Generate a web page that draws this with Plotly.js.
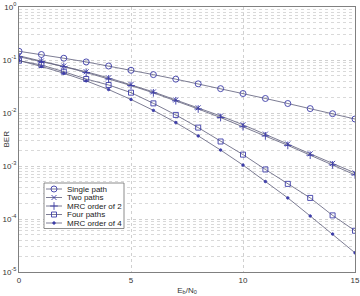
<!DOCTYPE html>
<html>
<head>
<meta charset="utf-8">
<script src="https://cdn.plot.ly/plotly-3.0.1.min.js"></script>
<style>html,body{margin:0;padding:0;background:#fff;}#chart{width:360px;height:296px;}</style>
</head>
<body>
<div id="chart"></div>
<script>
// ---- data ----
const ebno = [0,1,2,3,4,5,6,7,8,9,10,11,12,13,14,15];
const singlePath = [0.146,0.127,0.108,0.092,0.077,0.064,0.053,0.0435,0.0355,0.0288,0.0233,0.0188,0.0151,0.0121,0.0097,0.0077];
const twoPaths   = [0.120,0.096,0.077,0.060,0.046,0.0345,0.025,0.0176,0.0125,0.0088,0.0060,0.0040,0.0026,0.0017,0.00112,0.00074];
const mrc2       = [0.115,0.094,0.075,0.058,0.044,0.033,0.024,0.017,0.0119,0.0082,0.0055,0.0037,0.00245,0.0016,0.00105,0.00068];
const fourPaths  = [0.097,0.0805,0.0602,0.0438,0.0338,0.0242,0.0152,0.0092,0.0053,0.0029,0.00164,0.00086,0.00046,0.00025,0.000117,0.00006];
const mrc4       = [0.0975,0.0756,0.0564,0.0404,0.0277,0.018,0.0112,0.0066,0.0037,0.002,0.00104,0.00051,0.00025,0.000114,0.000052,0.000023];
const seriesNames = ['Single path','Two paths','MRC order of 2','Four paths','MRC order of 4'];
const xTicks = [0,5,10,15];
const yTickVals = [1,0.1,0.01,0.001,0.0001,0.00001];
const yTickText = ['10<sup>0</sup>','10<sup>-1</sup>','10<sup>-2</sup>','10<sup>-3</sup>','10<sup>-4</sup>','10<sup>-5</sup>'];

// ---- styles ----
const lineCol = '#5c5c78';
const markCol = '#3c3ca8';
const symbols = ['circle-open','x-thin-open','cross-thin-open','square-open','circle'];
const msizes  = [6,5,5.5,5,2.5];
const ys = [singlePath,twoPaths,mrc2,fourPaths,mrc4];
const FONT = 'Liberation Sans, Arial, sans-serif';

const traces = ys.map((y,i)=>({
  x: ebno, y: y, type:'scatter', mode:'lines+markers', name: seriesNames[i],
  showlegend:false,
  line:{color:lineCol,width:0.8},
  marker:{symbol:symbols[i],size:msizes[i],color:markCol,line:{color:markCol,width:0.9}},
  xaxis:'x', yaxis:'y'
}));

// minor grid values for log axis
const minorVals = [];
for (let e=-5;e<0;e++){ for (let m=2;m<=9;m++){ minorVals.push(m*Math.pow(10,e)); } }

// ---- custom compact legend (overlay axes 0..1 over plot area) ----
const W = 336, H = 265; // plot area px
const px = v => (v-19)/W;
const py = v => (272-v)/H;
const legRowsY = [189,197.5,206,214.5,223];
const bx0 = px(44), bx1 = px(124), by0 = py(228.5), by1 = py(183);
traces.push({
  x:[bx0,bx1,bx1,bx0,bx0], y:[by0,by0,by1,by1,by0], type:'scatter', mode:'lines',
  fill:'toself', fillcolor:'#ffffff', line:{color:'#707070',width:0.8},
  showlegend:false, hoverinfo:'skip', xaxis:'x2', yaxis:'y2'
});
const annotations = [];
seriesNames.forEach((n,i)=>{
  traces.push({
    x:[px(46),px(62)], y:[py(legRowsY[i]),py(legRowsY[i])], type:'scatter', mode:'lines',
    line:{color:lineCol,width:0.8}, showlegend:false, hoverinfo:'skip', xaxis:'x2', yaxis:'y2'
  });
  traces.push({
    x:[px(54)], y:[py(legRowsY[i])], type:'scatter', mode:'markers',
    marker:{symbol:symbols[i],size:msizes[i],color:markCol,line:{color:markCol,width:0.9}},
    showlegend:false, hoverinfo:'skip', xaxis:'x2', yaxis:'y2'
  });
  annotations.push({
    xref:'paper', yref:'paper', x:px(66), y:py(legRowsY[i]), xanchor:'left', yanchor:'middle',
    text:n, showarrow:false, borderpad:0, font:{family:FONT, size:8, color:'#222'}
  });
});
annotations.push({
  xref:'paper', yref:'paper', x:px(6), y:0.5, xanchor:'center', yanchor:'middle',
  text:'BER', textangle:-90, showarrow:false, borderpad:0,
  font:{family:FONT, size:8, color:'#333'}
});

const gridCol = '#c4c4c4';
const layout = {
  width:360, height:296,
  margin:{l:19, r:5, t:7, b:24},
  paper_bgcolor:'#fff', plot_bgcolor:'#fff',
  font:{family:FONT, size:8, color:'#333'},
  showlegend:false,
  xaxis:{
    range:[0,15], tickvals:xTicks, ticktext:xTicks.map(String),
    showgrid:true, gridcolor:gridCol, griddash:'dot', gridwidth:0.8,
    zeroline:false, showline:true, linecolor:'#808080', linewidth:1, mirror:true,
    ticks:'', ticklen:0, tickfont:{size:8, color:'#333'},
    title:{text:'E<sub>b</sub>/N<sub>0</sub>', font:{size:8, color:'#333'}, standoff:3},
    automargin:false
  },
  yaxis:{
    type:'log', range:[-5,0], tickvals:yTickVals, ticktext:yTickText,
    showgrid:true, gridcolor:gridCol, griddash:'dot', gridwidth:0.8,
    minor:{tickmode:'array', tickvals:minorVals, showgrid:true, gridcolor:'#d0d0d0', griddash:'dot', gridwidth:0.8, ticks:''},
    zeroline:false, showline:true, linecolor:'#808080', linewidth:1, mirror:true,
    ticks:'', tickfont:{size:8, color:'#333'}, automargin:false
  },
  xaxis2:{overlaying:'x', range:[0,1], visible:false, fixedrange:true},
  yaxis2:{overlaying:'y', range:[0,1], visible:false, fixedrange:true},
  annotations:annotations
};
Plotly.newPlot('chart', traces, layout, {staticPlot:true, displayModeBar:false});
</script>
</body>
</html>
